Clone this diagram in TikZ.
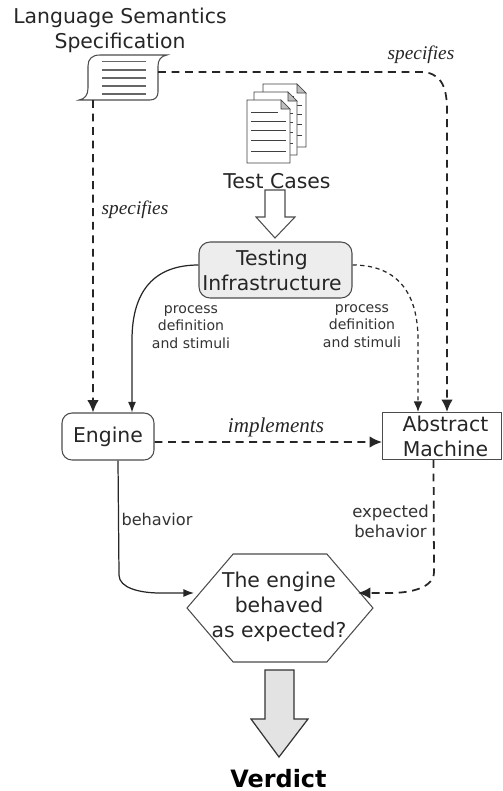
\documentclass[tikz,border=0pt]{standalone}
\usepackage{fontspec}
\setmainfont{DejaVu Sans}
\newfontfamily\slantfont{Liberation Serif}
\usetikzlibrary{arrows.meta,shapes.symbols}
\def\testpage(#1,#2){
	\draw[fill=white, draw=black!75] (#1, #2) -- (#1+34, #2) -- (#1+43, #2+9) -- (#1+43, #2+63) -- (#1, #2+63) -- cycle;
	\draw[fill=black!25, draw=black!75] (#1+34, #2) -- (#1+34, #2+9) -- (#1+43, #2+9) -- cycle;
	\draw[draw=black!75] (#1+4, #2+12) -- (#1+31, #2+12);
	\foreach \rowy in {21, 30, 40, 51} {
		\draw[draw=black!75] (#1+4, #2+\rowy) -- (#1+39, #2+\rowy);
	}
}
\tikzset{
	bigtext/.style={font=\fontsize{11.6}{14.2}\selectfont, align=center, inner sep=0, text=black!85},
	smalltext/.style={font=\fontsize{8}{9.9}\selectfont, align=center, inner sep=0, text=black!80},
	slanttext/.style={font=\slantfont\itshape\fontsize{11}{13}\selectfont, inner sep=0, text=black!85},
	infobox/.style={bigtext, draw=black!70, line width=0.6pt, inner sep=0},
	plainflow/.style={draw=black!85, line width=0.7pt, -{Latex[length=6pt, width=4.5pt]}},
	specflow/.style={draw=black!85, line width=1pt, dash pattern=on 4.5pt off 3.2pt, -{Latex[length=7pt, width=6.5pt]}},
	dotflow/.style={draw=black!85, line width=0.7pt, dash pattern=on 2.4pt off 2pt, -{Latex[length=6pt, width=5pt]}}
}
\begin{document}
\begin{tikzpicture}[x=0.02cm, y=-0.02cm]
			%%%%% START %%%%%
			\useasboundingbox (0, 0) rectangle (503, 791);
			
			\node[bigtext] (spectitle) at (120, 30.5) {Language Semantics\\Specification};
			
			% specification sheet
			\draw[draw=black!70, line width=0.6pt] (79, 100) .. controls (85, 99) and (88, 95) .. (88, 88) -- (88, 66) .. controls (88, 59) and (92, 55) .. (100, 55) -- (167, 55) .. controls (161, 56) and (158, 60) .. (158, 66) -- (158, 92) .. controls (158, 97) and (155, 100) .. (150, 100) -- cycle;
			\foreach \rowy in {61.5, 70, 78, 86, 94} {
				\draw[line width=0.8pt, draw=black!60] (102, \rowy) -- (146, \rowy);
			}
			\coordinate (specright) at (158, 72);
			\coordinate (specbottom) at (93, 100);
			
			% test case pages
			\testpage(263, 84)
			\testpage(254, 92)
			\testpage(247, 100)
			\node[bigtext] (testcases) at (277, 181) {Test Cases};
			
			\draw[draw=black!70, line width=0.6pt] (265, 190) -- (285, 190) -- (285, 217) -- (295, 217) -- (275, 238) -- (256, 217) -- (265, 217) -- cycle;
			
			\node[infobox, fill=black!7, rounded corners=0.22cm, minimum width=3.06cm, minimum height=1.12cm] (testing) at (275.5, 270) {\hspace*{-0.14cm}Testing\\\hspace*{-0.14cm}Infrastructure};
			\node[infobox, rounded corners=0.2cm, minimum width=1.84cm, minimum height=0.94cm] (engine) at (108, 436.5) {Engine};
			\node[infobox, minimum width=2.38cm, minimum height=0.94cm] (abstract) at (442, 436) {\hspace*{0.14cm}Abstract\\\hspace*{0.14cm}Machine};
			\node[draw=black!70, line width=0.6pt, signal, signal to=east and west, signal pointer angle=99, inner sep=0, minimum width=3.72cm, minimum height=2.16cm] (question) at (280, 608) {};
			\node[bigtext] (questiontext) at (279, 607) {The engine\\behaved\\as expected?};
			\coordinate (questionleft) at (194, 593);
			\coordinate (questionright) at (358, 593);
			
			\draw[specflow] (specbottom) -- ([xshift=-0.3cm]engine.north);
			\draw[specflow] (specright) -- (420, 72) .. controls (440, 72) and (447, 85) .. (447, 110) -- ([xshift=0.1cm]abstract.north);
			\draw[plainflow] ([yshift=0.1cm]testing.west) .. controls (155, 265) and (132, 290) .. (132, 340) -- ([xshift=0.48cm]engine.north);
			\draw[dotflow] ([yshift=0.1cm]testing.east) .. controls (395, 265) and (418, 290) .. (418, 340) -- ([xshift=-0.48cm]abstract.north);
			\draw[specflow] ([yshift=-0.11cm]engine.east) -- ([yshift=-0.12cm]abstract.west);
			\draw[plainflow] ([xshift=0.2cm]engine.south) -- (119, 575) .. controls (119, 588) and (140, 593) .. (160, 593) -- (questionleft);
			\draw[specflow] ([xshift=-0.17cm]abstract.south) -- (434, 572) .. controls (434, 588) and (410, 593) .. (390, 593) -- (questionright);
			
			\node[slanttext] (specifiesright) at (421, 55) {specifies};
			\node[slanttext] (specifiesleft) at (135, 210) {specifies};
			\node[slanttext, font=\slantfont\itshape\fontsize{12}{14}\selectfont] (implements) at (276, 427) {implements};
			\node[smalltext] (stimulileft) at (191, 327) {process\\definition\\and stimuli};
			\node[smalltext] (stimuliright) at (362, 326) {process\\definition\\and stimuli};
			\node[smalltext, font=\fontsize{9.2}{11}\selectfont] (behavior) at (157, 519) {behavior};
			\node[smalltext, font=\fontsize{9.4}{11.4}\selectfont] (expected) at (390.5, 521) {expected\\behavior};
			
			\draw[fill=black!11, draw=black!80, line width=0.7pt] (265, 670) -- (294, 670) -- (294, 719) -- (308, 719) -- (279, 757) -- (251, 719) -- (265, 719) -- cycle;
			\node[font=\bfseries\fontsize{13.6}{15}\selectfont, inner sep=0] (verdict) at (278.5, 779) {Verdict};
			%%%%% END %%%%%
		\end{tikzpicture}
\end{document}
